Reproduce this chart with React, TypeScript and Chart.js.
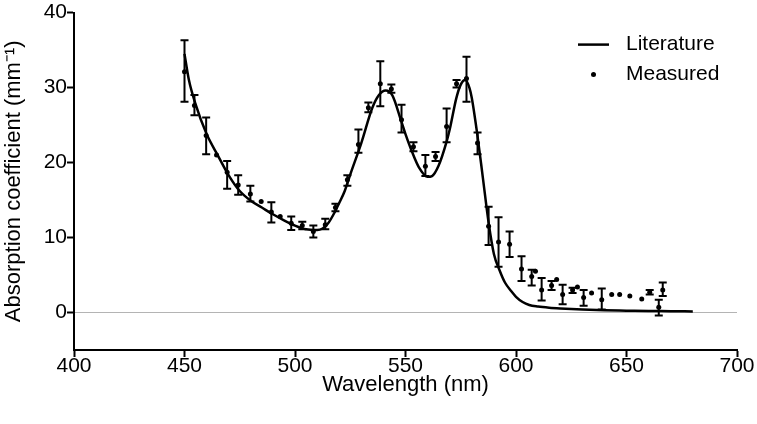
import { useEffect, useRef } from "react";
import { Chart, registerables } from "chart.js";

Chart.register(...registerables);

const FONT = "'Liberation Sans', Arial, Helvetica, sans-serif";

// Literature spectrum (nm, mm^-1)
const litWl = [450, 452, 455, 460, 465, 470, 475, 480, 485, 490, 495, 500, 505, 510, 512.5, 515, 518, 520, 522.5, 525, 530, 535, 538, 541, 544, 548, 550, 553, 556, 560, 562, 565, 568.6, 570, 573, 575, 577, 579, 580, 582.6, 585, 587.6, 590, 592.6, 595, 598, 600, 603, 606, 610, 615, 620, 630, 640, 650, 660, 670, 680];
const litVal = [34.5, 31.0, 27.8, 23.8, 21.0, 18.3, 16.2, 14.9, 14.0, 13.1, 12.3, 11.6, 11.1, 11.0, 11.2, 11.9, 13.4, 14.6, 16.2, 18.4, 22.6, 27.3, 29.0, 29.6, 29.0, 25.6, 23.8, 21.4, 19.4, 18.1, 18.2, 19.6, 22.8, 24.4, 28.6, 30.4, 31.0, 29.9, 28.6, 23.5, 18.0, 12.0, 7.8, 5.6, 4.0, 2.8, 2.1, 1.4, 1.0, 0.8, 0.65, 0.55, 0.4, 0.3, 0.25, 0.2, 0.18, 0.15];

// Measured points with error bars (null = no visible bar)
const measWl = [450, 454.5, 459.8, 464.5, 469.3, 474.3, 479.8, 484.7, 489.3, 493.3, 498.3, 503.3, 508.3, 513.7, 518.3, 523.7, 528.7, 533.2, 538.6, 543.6, 548.2, 553.6, 559.0, 563.6, 568.6, 573.1, 577.6, 582.6, 587.6, 592.1, 597.1, 602.5, 607.1, 608.8, 611.6, 616.1, 618.4, 621.1, 625.6, 627.8, 630.6, 634.2, 638.8, 643.3, 646.9, 651.5, 656.9, 660.5, 664.6, 666.4];
const measVal = [32.1, 27.6, 23.6, 21.0, 18.7, 17.0, 15.8, 14.8, 13.4, 12.8, 11.9, 11.6, 10.8, 11.7, 14.0, 17.7, 22.4, 27.3, 30.5, 29.8, 25.7, 22.1, 19.5, 20.8, 24.8, 30.5, 31.2, 22.6, 11.5, 9.4, 9.1, 5.8, 4.8, 5.5, 3.0, 3.6, 4.4, 2.4, 3.0, 3.4, 2.0, 2.6, 1.7, 2.4, 2.4, 2.2, 1.8, 2.7, 0.7, 3.0];
const errLow: (number | null)[] = [28.1, 26.3, 21.1, null, 16.5, 15.7, 14.8, null, 12.0, null, 11.0, 11.1, 10.0, 11.1, 13.5, 16.9, 21.3, 26.7, 27.5, 29.3, 24.0, 21.5, 18.2, 20.2, 22.7, 30.0, 28.1, 21.1, 9.0, 6.1, 7.4, 4.2, 3.6, null, 1.6, 3.0, null, 1.1, 2.6, null, 0.9, null, 0.4, null, null, null, null, 2.4, -0.4, 2.2];
const errHigh: (number | null)[] = [36.3, 29.0, 26.0, null, 20.2, 18.3, 16.9, null, 14.7, null, 12.8, 12.1, 11.6, 12.5, 14.5, 18.3, 24.4, 28.0, 33.5, 30.4, 27.7, 22.7, 21.0, 21.4, 27.2, 31.0, 34.1, 24.0, 14.1, 12.7, 10.8, 7.5, 5.7, null, 4.6, 4.2, null, 3.7, 3.3, null, 3.0, null, 3.2, null, null, null, null, 3.0, 1.7, 4.0];

const xTicks = [400, 450, 500, 550, 600, 650, 700];
const yTicks = [0, 10, 20, 30, 40];
const seriesNames = ["Literature", "Measured"];
const xTitle = "Wavelength (nm)";
const yTitle = "Absorption coefficient (mm\u207B\u00B9)";

export default function App() {
  const ref = useRef<HTMLCanvasElement>(null);

  useEffect(() => {
    document.body.style.margin = "0";
    const canvas = ref.current;
    if (!canvas) return;

    const errorBars = {
      id: "errorBars",
      afterDatasetsDraw(chart: any) {
        const { ctx, scales } = chart;
        const xs = scales.x;
        const ys = scales.y;
        ctx.save();
        ctx.strokeStyle = "#000";
        ctx.lineWidth = 2;
        const cap = 4;
        for (let i = 0; i < measWl.length; i++) {
          const lo = errLow[i];
          const hi = errHigh[i];
          if (lo == null || hi == null) continue;
          const x = xs.getPixelForValue(measWl[i]);
          const y1 = ys.getPixelForValue(lo);
          const y2 = ys.getPixelForValue(hi);
          ctx.beginPath();
          ctx.moveTo(x, y1);
          ctx.lineTo(x, y2);
          ctx.moveTo(x - cap, y1);
          ctx.lineTo(x + cap, y1);
          ctx.moveTo(x - cap, y2);
          ctx.lineTo(x + cap, y2);
          ctx.stroke();
        }
        ctx.restore();
      },
    };

    const legendBox = {
      id: "legendBox",
      afterDraw(chart: any) {
        const { ctx, chartArea } = chart;
        const xLine0 = chartArea.right - 159;
        const xLine1 = chartArea.right - 128;
        const xText = chartArea.right - 111;
        const y1 = chartArea.top + 32;
        const y2 = chartArea.top + 62;
        ctx.save();
        ctx.strokeStyle = "#000";
        ctx.fillStyle = "#000";
        ctx.lineWidth = 2.5;
        ctx.beginPath();
        ctx.moveTo(xLine0, y1);
        ctx.lineTo(xLine1, y1);
        ctx.stroke();
        ctx.beginPath();
        ctx.arc((xLine0 + xLine1) / 2, y2, 2.5, 0, Math.PI * 2);
        ctx.fill();
        ctx.font = `21px ${FONT}`;
        ctx.textBaseline = "middle";
        ctx.textAlign = "left";
        ctx.fillText(seriesNames[0], xText, y1);
        ctx.fillText(seriesNames[1], xText, y2);
        ctx.restore();
      },
    };

    const chart = new Chart(canvas, {
      type: "scatter",
      data: {
        datasets: [
          {
            label: seriesNames[0],
            data: litWl.map((x, i) => ({ x, y: litVal[i] })),
            showLine: true,
            borderColor: "#000",
            backgroundColor: "#000",
            borderWidth: 2.5,
            pointRadius: 0,
            cubicInterpolationMode: "monotone",
            fill: false,
          } as any,
          {
            label: seriesNames[1],
            data: measWl.map((x, i) => ({ x, y: measVal[i] })),
            showLine: false,
            borderColor: "#000",
            backgroundColor: "#000",
            pointRadius: 2.5,
            pointBorderWidth: 0,
          } as any,
        ],
      },
      options: {
        responsive: false,
        animation: false,
        events: [],
        layout: { padding: { top: 12, right: 20, left: 0, bottom: 0 } },
        plugins: {
          legend: { display: false },
          tooltip: { enabled: false },
        },
        scales: {
          x: {
            type: "linear",
            min: 400,
            max: 700,
            afterBuildTicks: (s: any) => {
              s.ticks = xTicks.map((v) => ({ value: v }));
            },
            afterFit: (s: any) => {
              s.height = 74;
            },
            grid: {
              drawOnChartArea: false,
              drawTicks: true,
              tickLength: 7,
              tickColor: "#000",
              tickWidth: 2,
              color: "#000",
            },
            border: { display: true, color: "#000", width: 2 },
            ticks: {
              color: "#000",
              font: { size: 21, family: FONT },
              padding: -3,
              maxRotation: 0,
              autoSkip: false,
            },
            title: {
              display: true,
              text: xTitle,
              color: "#000",
              font: { size: 22, family: FONT },
              padding: { top: 0, bottom: 26 },
            },
          },
          y: {
            type: "linear",
            min: -5,
            max: 40,
            afterBuildTicks: (s: any) => {
              s.ticks = yTicks.map((v) => ({ value: v }));
            },
            afterFit: (s: any) => {
              s.width = 74;
            },
            grid: {
              drawOnChartArea: true,
              drawTicks: true,
              tickLength: 7,
              tickColor: "#000",
              tickWidth: 2,
              lineWidth: 1,
              color: (c: any) => (c.tick && c.tick.value === 0 ? "#b4b4b4" : "rgba(0,0,0,0)"),
            },
            border: { display: true, color: "#000", width: 2 },
            ticks: {
              color: "#000",
              font: { size: 21, family: FONT },
              padding: 0,
              autoSkip: false,
            },
            title: {
              display: true,
              text: yTitle,
              color: "#000",
              font: { size: 22, family: FONT },
              padding: { top: 1, bottom: 0 },
            },
          },
        },
      },
      plugins: [errorBars, legendBox],
    });

    return () => chart.destroy();
  }, []);

  return <canvas ref={ref} width={757} height={424} style={{ display: "block" }} />;
}
